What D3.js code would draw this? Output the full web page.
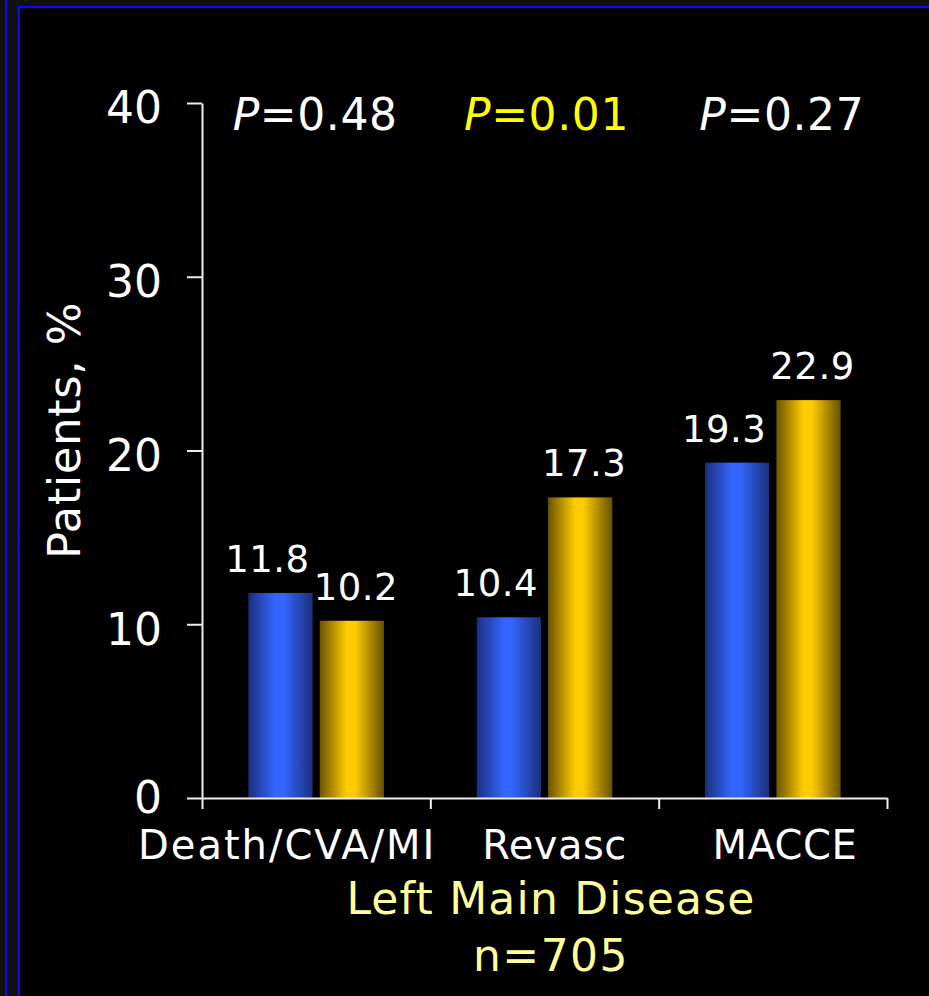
<!DOCTYPE html>
<html>
<head>
<meta charset="utf-8">
<script src="https://cdn.jsdelivr.net/npm/d3@7"></script>
<style>
  html, body { margin: 0; padding: 0; background: #111; }
  svg { display: block; }
  text { font-family: "DejaVu Sans", Verdana, sans-serif; }
</style>
</head>
<body>
<svg id="chart" width="929" height="996"></svg>
<script>
// Outcome categories and the two treatment series (% of patients)
const categories = ["Death/CVA/MI", "Revasc", "MACCE"];
const series = ["blue", "gold"];
const blueValues = [11.8, 10.4, 19.3];
const goldValues = [10.2, 17.3, 22.9];
const pValues = ["0.48", "0.01", "0.27"];
const pHighlight = [false, true, false];
const yTicks = [0, 10, 20, 30, 40];
const yTitle = "Patients, %";
const subtitle1 = "Left Main Disease";
const subtitle2 = "n=705";

const svg = d3.select("#chart");
const W = 929, H = 996;

// Slide frame: grey margin, blue rules and black panel
svg.append("rect").attr("width", W).attr("height", H).attr("fill", "#111");
svg.append("rect").attr("x", 19).attr("y", 7).attr("width", W).attr("height", H).attr("fill", "#000");
svg.append("line").attr("x1", 6).attr("x2", 6).attr("y1", 0).attr("y2", H)
  .attr("stroke", "#0a0aff").attr("stroke-width", 2);
svg.append("line").attr("x1", 19).attr("x2", 19).attr("y1", 6).attr("y2", H)
  .attr("stroke", "#0a0aff").attr("stroke-width", 2);
svg.append("line").attr("x1", 18).attr("x2", W).attr("y1", 7).attr("y2", 7)
  .attr("stroke", "#0a0aff").attr("stroke-width", 2);

// Cylinder-style horizontal gradients for the bars
const defs = svg.append("defs");
function cyl(id, edgeL, mid, edgeR) {
  const g = defs.append("linearGradient").attr("id", id)
    .attr("x1", "0%").attr("x2", "100%").attr("y1", "0%").attr("y2", "0%");
  g.append("stop").attr("offset", "0%").attr("stop-color", edgeL);
  g.append("stop").attr("offset", "42%").attr("stop-color", mid);
  g.append("stop").attr("offset", "55%").attr("stop-color", mid);
  g.append("stop").attr("offset", "100%").attr("stop-color", edgeR);
}
cyl("gBlue", "#1b2f7c", "#3366ff", "#1b2f7a");
cyl("gGold", "#6a5400", "#ffcc00", "#665000");
const fills = { blue: "url(#gBlue)", gold: "url(#gGold)" };

// Scales
const plot = { left: 202, right: 887, top: 103, bottom: 798 };
const y = d3.scaleLinear().domain([0, 40]).range([plot.bottom, plot.top]);
const x0 = d3.scaleBand().domain(categories).range([plot.left, plot.right]).padding(0);
const x1 = d3.scaleBand().domain(series).range([0, x0.bandwidth()])
  .paddingInner(0.1).paddingOuter(0.65);

const rows = categories.map((c, i) => ({
  cat: c,
  vals: [{ s: "blue", v: blueValues[i] }, { s: "gold", v: goldValues[i] }]
}));

// Bars
const groups = svg.append("g").selectAll("g").data(rows).join("g")
  .attr("transform", d => `translate(${x0(d.cat)},0)`);
groups.selectAll("rect").data(d => d.vals).join("rect")
  .attr("x", d => x1(d.s))
  .attr("y", d => y(d.v))
  .attr("width", x1.bandwidth())
  .attr("height", d => y(0) - y(d.v))
  .attr("fill", d => fills[d.s]);

// Value labels above bars
groups.selectAll("text.val").data(d => d.vals).join("text")
  .attr("class", "val")
  .attr("x", d => x1(d.s) + x1.bandwidth() / 2 + (d.s === "blue" ? -13 : 4))
  .attr("y", d => y(d.v) - 21)
  .attr("text-anchor", "middle")
  .attr("fill", "#fff")
  .attr("font-size", 37)
  .attr("letter-spacing", 0.5)
  .text(d => d.v.toFixed(1));

// Y axis
const yAxis = svg.append("g").attr("transform", `translate(${plot.left},0)`)
  .call(d3.axisLeft(y).tickValues(yTicks).tickSize(15).tickSizeOuter(0).tickPadding(25));
yAxis.select(".domain").attr("stroke", "#eee").attr("stroke-width", 2);
yAxis.selectAll(".tick line").attr("stroke", "#eee").attr("stroke-width", 2);
yAxis.selectAll(".tick text").attr("fill", "#fff").attr("font-size", 44)
  .attr("dy", d => d === 0 ? "0.32em" : "0.45em")
  .attr("font-family", "DejaVu Sans, Verdana, sans-serif");

// X axis: baseline with ticks at category boundaries
const xEdges = d3.scaleLinear().domain([0, categories.length]).range([plot.left, plot.right]);
const xAxis = svg.append("g").attr("transform", `translate(0,${plot.bottom})`)
  .call(d3.axisBottom(xEdges).tickValues(d3.range(categories.length + 1))
    .tickSize(11).tickSizeOuter(0).tickFormat(""));
xAxis.select(".domain").attr("stroke", "#eee").attr("stroke-width", 2);
xAxis.selectAll(".tick line").attr("stroke", "#eee").attr("stroke-width", 2);

// Category labels
const catShift = [-29, 10, 12];
const xLab = svg.append("g").attr("transform", `translate(0,${plot.bottom})`)
  .call(d3.axisBottom(x0).tickSize(0).tickPadding(0));
xLab.select(".domain").remove();
xLab.selectAll(".tick text")
  .attr("fill", "#fff").attr("font-size", 40)
  .attr("font-family", "DejaVu Sans, Verdana, sans-serif")
  .attr("letter-spacing", (d, i) => i === 0 ? 2 : 0.5)
  .attr("dy", 0).attr("y", 61)
  .attr("dx", (d, i) => catShift[i]);

// P values above each group
const pText = svg.append("g").selectAll("text").data(categories).join("text")
  .attr("x", (d, i) => x0(d) + x0.bandwidth() / 2 + [-1, 2, 9][i])
  .attr("y", 130)
  .attr("text-anchor", "middle")
  .attr("font-size", 44)
  .attr("letter-spacing", 0.6)
  .attr("fill", (d, i) => pHighlight[i] ? "#ffff00" : "#fff");
pText.append("tspan").attr("font-style", "italic").text("P");
pText.append("tspan").text((d, i) => "=" + pValues[i]);

// Y axis title
svg.append("text")
  .attr("transform", `translate(80,${(plot.top + plot.bottom) / 2 - 20}) rotate(-90)`)
  .attr("text-anchor", "middle")
  .attr("fill", "#fff").attr("font-size", 45)
  .attr("letter-spacing", 0.5)
  .text(yTitle);

// Subtitle
svg.append("text").attr("x", 551).attr("y", 914).attr("text-anchor", "middle")
  .attr("fill", "#ffff99").attr("font-size", 44).attr("letter-spacing", 1.2).text(subtitle1);
svg.append("text").attr("x", 551).attr("y", 971).attr("text-anchor", "middle")
  .attr("fill", "#ffff99").attr("font-size", 44).attr("letter-spacing", 1.5).text(subtitle2);
</script>
</body>
</html>
